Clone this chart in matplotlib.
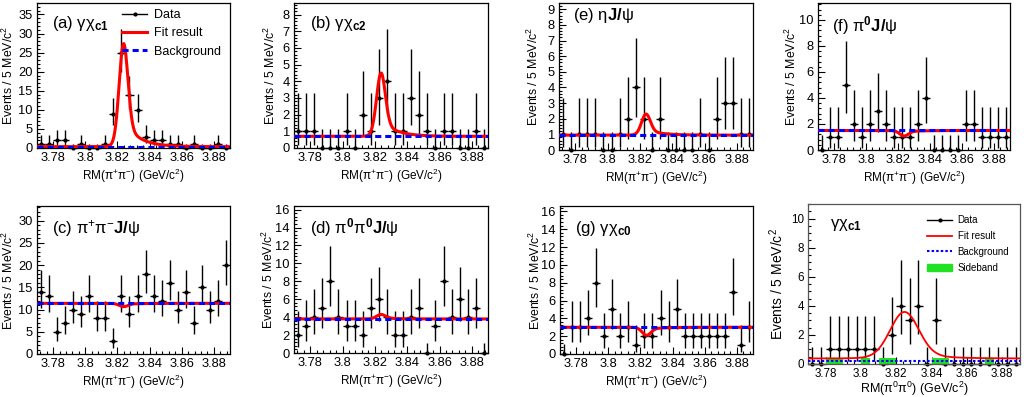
#!/usr/bin/env python3

import math

import numpy as np
import matplotlib
matplotlib.use("Agg")
from matplotlib import pyplot as plt
from matplotlib.ticker import MultipleLocator, AutoMinorLocator
from matplotlib.patches import Patch
from matplotlib.lines import Line2D

plt.rcParams["font.family"] = ["Liberation Sans", "DejaVu Sans"]
plt.rcParams["mathtext.fontset"] = "custom"
plt.rcParams["mathtext.rm"] = "Liberation Sans"
plt.rcParams["mathtext.bf"] = "Liberation Sans:bold"
plt.rcParams["mathtext.it"] = "Liberation Sans:italic"

FIG_W, FIG_H = 1024, 397

# histogram binning: 5 MeV bins over RM range
X_LO, X_HI, NBINS = 3.77, 3.89, 24

# event counts per bin
counts_a = [1, 1, 2, 2, 0, 1, 0, 0, 1, 9, 25, 14, 10, 3, 2, 2, 1, 1, 0, 1, 0, 0, 1, 0]
counts_b = [1, 1, 1, 0, 0, 0, 1, 0, 2, 1, 3, 4, 1, 1, 3, 2, 1, 0, 1, 1, 0, 0, 1, 0]
counts_e = [1, 0, 1, 1, 1, 0, 0, 1, 2, 4, 2, 0, 2, 0, 0, 0, 0, 1, 0, 2, 3, 3, 1, 1]
counts_f = [0, 1, 1, 5, 2, 1, 2, 3, 2, 1, 1, 1, 2, 4, 0, 0, 0, 0, 2, 2, 1, 1, 1, 1]
counts_c = [14, 13, 5, 7, 10, 9, 13, 8, 8, 3, 13, 9, 13, 18, 13, 12, 16, 10, 14, 7, 15, 10, 12, 20]
counts_d = [2, 3, 4, 5, 8, 4, 3, 3, 2, 5, 6, 4, 2, 2, 4, 5, 0, 3, 8, 4, 6, 4, 5, 0]
counts_g = [0, 3, 3, 4, 8, 2, 5, 2, 3, 1, 2, 2, 4, 3, 5, 2, 2, 2, 2, 2, 2, 7, 1, 3]
counts_h = [0, 0, 1, 1, 1, 1, 1, 1, 0, 2, 4, 3, 4, 0, 3, 0, 0, 0, 0, 0, 0, 0, 0, 0]
sideband_h = [0, 0, 0.4, 0.4, 0, 0, 0.4, 0, 0.4, 0.4, 0, 0, 0, 0, 0.4, 0.4,
              0, 0, 0, 0, 0.4, 0, 0, 0]

# fit results: flat background level and signal amplitude (events / bin)
bkg_levels = {"a": 0.35, "b": 0.7, "e": 0.95, "f": 1.5, "c": 11.4, "d": 3.8, "g": 3.0, "h": 0.24}
sig_amps = {"a": 27.0, "b": 3.8, "e": 1.35, "f": -0.42, "c": -0.75, "d": 0.5, "g": -0.9, "h": 3.2}
fit_floor_h = 0.38

titles = {
    "a": r"(a) γχ$_{\mathbf{c1}}$",
    "b": r"(b) γχ$_{\mathbf{c2}}$",
    "e": r"(e) η$\mathbf{J/}$ψ",
    "f": r"(f) π$^{\mathbf{0}}$$\mathbf{J/}$ψ",
    "c": r"(c) π$^{+}$π$^{-}$$\mathbf{J/}$ψ",
    "d": r"(d) π$^{\mathbf{0}}$π$^{\mathbf{0}}$$\mathbf{J/}$ψ",
    "g": r"(g) γχ$_{\mathbf{c0}}$",
    "h": r"γχ$_{\mathbf{c1}}$",
}
y_limits = {"a": 38, "b": 8.7, "e": 9.4, "f": 11.3, "c": 33.3, "d": 16.4, "g": 16.6, "h": 11.0}
y_majors = {"a": 5, "b": 1, "e": 1, "f": 2, "c": 5, "d": 2, "g": 2, "h": 2}

YLABEL = "Events / 5 MeV/c$^{2}$"
XLABEL_PP = "RM(π$^{+}$π$^{-}$) (GeV/c$^{2}$)"
XLABEL_00 = "RM(π$^{0}$π$^{0}$) (GeV/c$^{2}$)"

# frame boxes in pixels: left, right, top, bottom
frames = {
    "a": (37, 230, 3, 148),
    "b": (294, 488, 3, 148),
    "e": (559, 753, 3, 150),
    "f": (818, 1010, 3, 150),
    "c": (37, 230, 206, 354),
    "d": (294, 488, 206, 353),
    "g": (560, 753, 206, 354),
    "h": (808, 1020, 204, 364),
}
title_pos = {"a": (0.078, 0.86), "b": (0.082, 0.86), "e": (0.072, 0.915), "f": (0.073, 0.85),
             "c": (0.078, 0.85), "d": (0.082, 0.855), "g": (0.078, 0.85), "h": (0.104, 0.87)}
ylabel_x = {"a": -0.109, "b": -0.082, "e": -0.093, "f": -0.099,
            "c": -0.109, "d": -0.093, "g": -0.088, "h": -0.105}


def poisson_interval(n):
    if n == 0:
        return 0.0, 1.148

    def cdf(k, mu):
        return sum(math.exp(-mu) * mu ** i / math.factorial(i) for i in range(k + 1))

    def solve(k, target):
        lo, hi = 0.0, 100.0
        for _ in range(80):
            mid = 0.5 * (lo + hi)
            if cdf(k, mid) > target:
                lo = mid
            else:
                hi = mid
        return 0.5 * (lo + hi)

    return solve(n - 1, 0.8413), solve(n, 0.1587)


def peak_shape(x, mean, sigma, tail, tau):
    dx = (x - mean) * 1000.0
    core = np.exp(-0.5 * (dx / sigma) ** 2)
    right = tail * np.exp(-dx / tau) / (1.0 + np.exp(-1.5 * dx / sigma))
    shape = core + right
    return shape / shape.max()


centers = X_LO + (X_HI - X_LO) / NBINS * (np.arange(NBINS) + 0.5)
half_w = (X_HI - X_LO) / NBINS / 2
xs = np.linspace(X_LO, X_HI, 800)
shape_pp = peak_shape(xs, 3.8237, 2.7, 0.3, 9.0)
shape_00 = peak_shape(xs, 3.8245, 8.0, 0.2, 14.0)

all_counts = {"a": counts_a, "b": counts_b, "e": counts_e, "f": counts_f,
              "c": counts_c, "d": counts_d, "g": counts_g, "h": counts_h}

fig = plt.figure(figsize=(FIG_W / 100, FIG_H / 100), dpi=100)

for key, (x0, x1, y0, y1) in frames.items():
    ax = fig.add_axes([x0 / FIG_W, 1 - y1 / FIG_H, (x1 - x0) / FIG_W, (y1 - y0) / FIG_H])
    small = key == "h"
    counts = np.array(all_counts[key], dtype=float)
    ints = [poisson_interval(int(n)) for n in counts]
    lo = counts - np.array([i[0] for i in ints])
    hi = np.array([i[1] for i in ints]) - counts

    if small:
        ax.bar(centers, sideband_h, width=2 * half_w, color="#22e022", zorder=2.5)
    ax.errorbar(centers, counts, xerr=half_w, yerr=[lo, hi], fmt="o", ms=2.0,
                color="black", ecolor="black", elinewidth=1.0, capsize=0, zorder=2, clip_on=False)

    bkg = bkg_levels[key]
    if small:
        ax.plot(xs, fit_floor_h + sig_amps[key] * shape_00, color="red", lw=1.3, zorder=3)
        ax.plot(xs, np.full_like(xs, bkg), color="blue", lw=1.5, ls=(0, (1.2, 1.0)), zorder=4)
    else:
        ax.plot(xs, bkg + sig_amps[key] * shape_pp, color="red", lw=2.2, zorder=3)
        ax.plot(xs, np.full_like(xs, bkg), color="blue", lw=2.2, ls=(0, (2.0, 1.3)), zorder=4)

    ax.set_xlim(X_LO, X_HI)
    ax.set_ylim(0, y_limits[key])
    ax.xaxis.set_major_locator(MultipleLocator(0.02))
    ax.xaxis.set_minor_locator(AutoMinorLocator(5))
    ax.yaxis.set_major_locator(MultipleLocator(y_majors[key]))
    ax.yaxis.set_minor_locator(AutoMinorLocator(4 if small else 5))
    ax.xaxis.set_major_formatter(plt.FuncFormatter(lambda v, p: f"{v:.2f}".rstrip("0")))

    tick_fs = 8.4 if small else 9.3
    ax.tick_params(which="both", direction="in", top=False, right=False, labelsize=tick_fs, pad=3)
    ax.tick_params(which="major", length=5, width=0.8)
    ax.tick_params(which="minor", length=2.5, width=0.8)
    for sp_ in ax.spines.values():
        sp_.set_linewidth(0.9)
        sp_.set_color("#555555" if small else "black")

    ax.set_ylabel(YLABEL, fontsize=10 if small else 8.8)
    ax.yaxis.set_label_coords(ylabel_x[key], 0.5)
    ax.set_xlabel(XLABEL_00 if small else XLABEL_PP, fontsize=9 if small else 8.5,
                  labelpad=0 if small else 2)

    tx, ty = title_pos[key]
    ax.text(tx, ty, titles[key], transform=ax.transAxes, fontsize=12, va="center", ha="left")

    if key == "a":
        handles = [
            Line2D([], [], color="black", marker="o", ms=2, lw=1.0),
            Line2D([], [], color="red", lw=2.2),
            Line2D([], [], color="blue", lw=2.2, ls=(0, (2.0, 1.3))),
        ]
        ax.legend(handles, ["Data", "Fit result", "Background"], loc="upper right",
                  bbox_to_anchor=(1.01, 1.035), frameon=False, fontsize=9,
                  handlelength=2.0, handletextpad=0.5, labelspacing=0.5)
    if small:
        handles = [
            Line2D([], [], color="black", marker="o", ms=2, lw=1.0),
            Line2D([], [], color="red", lw=1.3),
            Line2D([], [], color="blue", lw=1.5, ls=(0, (1.2, 1.0))),
            Patch(color="#22e022"),
        ]
        ax.legend(handles, ["Data", "Fit result", "Background", "Sideband"], loc="upper right",
                  bbox_to_anchor=(0.99, 0.985), frameon=False, fontsize=7,
                  handlelength=2.5, handletextpad=0.6, labelspacing=0.6)

plt.savefig("out.png", dpi=100)
